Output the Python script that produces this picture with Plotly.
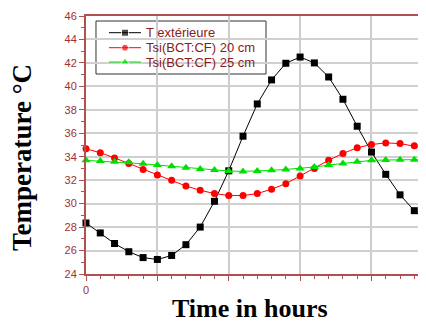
import plotly.graph_objects as go

hours = list(range(25))
t_ext = [28.35, 27.5, 26.6, 25.9, 25.4, 25.24, 25.58, 26.5, 28.0, 30.2, 32.8, 35.75,
         38.5, 40.55, 41.97, 42.5, 42.0, 40.8, 38.9, 36.6, 34.4, 32.5, 30.75, 29.4, 28.3]
tsi_20 = [34.68, 34.34, 33.9, 33.43, 32.92, 32.44, 31.99, 31.5, 31.14, 30.86, 30.69, 30.69,
          30.86, 31.23, 31.7, 32.36, 33.0, 33.7, 34.28, 34.76, 35.04, 35.18, 35.12, 34.93, 34.68]
tsi_25 = [33.69, 33.63, 33.57, 33.52, 33.4, 33.29, 33.18, 33.06, 32.95, 32.86, 32.78, 32.75,
          32.78, 32.84, 32.92, 33.0, 33.12, 33.29, 33.43, 33.57, 33.69, 33.72, 33.75, 33.75, 33.69]
series_names = ["T extérieure", "Tsi(BCT:CF) 20 cm", "Tsi(BCT:CF) 25 cm"]

x_tickvals = [0, 5, 10, 15, 20]
x_ticktext = ["0", "", "", "", ""]
y_tickvals = list(range(24, 47, 2))

axis_red = "#b05050"
label_red = "#a0302f"
legend_red = "#8b1a1a"
colors = ["black", "#ff0000", "#00e000"]
symbols = ["square", "circle", "triangle-up"]
msizes = [7, 7, 8]

fig = go.Figure()
for vals, name, c, s, ms in zip([t_ext, tsi_20, tsi_25], series_names, colors, symbols, msizes):
    fig.add_trace(go.Scatter(x=hours, y=vals, mode="lines+markers", name=name,
                             line=dict(color=c, width=1),
                             marker=dict(symbol=s, size=ms, color=c),
                             showlegend=False, cliponaxis=False))

# manual legend (overlay axes 0..1)
leg_x0, leg_x1 = 0.0294, 0.5294
leg_y0, leg_y1 = 0.7752, 0.9806
row_y = [0.9353, 0.8771, 0.8217]
samp_x = [0.0676, 0.1147, 0.1618]
text_x = 0.1706
for name, c, s, ms, ry in zip(series_names, colors, symbols, msizes, row_y):
    fig.add_trace(go.Scatter(x=samp_x, y=[ry, ry, ry], xaxis="x2", yaxis="y2",
                             mode="lines+markers", line=dict(color=c, width=1),
                             marker=dict(symbol=s, size=[0, ms, 0], color=c),
                             showlegend=False, hoverinfo="skip", cliponaxis=False))

annotations = [
    dict(text="<b>Temperature °C</b>", textangle=-90, xref="paper", yref="paper",
         x=-0.188, y=0.45, xanchor="center", yanchor="middle", showarrow=False,
         font=dict(family="Liberation Serif", size=27, color="black")),
    dict(text="<b>Time in hours</b>", xref="paper", yref="paper",
         x=0.482, y=-0.1977, xanchor="center", yanchor="bottom", showarrow=False,
         font=dict(family="Liberation Serif", size=26, color="black")),
]
for name, ry in zip(series_names, row_y):
    annotations.append(dict(text=name, xref="paper", yref="paper", x=text_x, y=ry,
                            xanchor="left", yanchor="middle", showarrow=False,
                            font=dict(family="Arial", size=13, color=legend_red)))

fig.update_layout(
    width=418, height=318,
    margin=dict(l=78, r=0, t=8, b=52),
    plot_bgcolor="white", paper_bgcolor="white",
    showlegend=False,
    xaxis=dict(range=[0, 23.82], tickvals=x_tickvals, ticktext=x_ticktext,
               showline=True, linecolor=axis_red, linewidth=2, mirror=True,
               ticks="outside", ticklen=5, tickcolor=axis_red, tickwidth=1,
               showgrid=True, gridcolor="#cccccc", gridwidth=1.5,
               minor=dict(dtick=1, ticks="outside", ticklen=3, tickcolor=axis_red, showgrid=False),
               tickfont=dict(family="Arial", size=11, color=label_red), zeroline=False),
    yaxis=dict(range=[24, 46], tickvals=y_tickvals,
               showline=True, linecolor=axis_red, linewidth=2, mirror=False,
               ticks="outside", ticklen=5, tickcolor=axis_red, tickwidth=1,
               showgrid=True, gridcolor="#d0d0d0", gridwidth=1.5,
               minor=dict(dtick=1, ticks="outside", ticklen=3, tickcolor=axis_red, showgrid=False),
               tickfont=dict(family="Arial", size=11, color=label_red), zeroline=False),
    xaxis2=dict(overlaying="x", range=[0, 1], visible=False, fixedrange=True),
    yaxis2=dict(overlaying="y", range=[0, 1], visible=False, fixedrange=True),
    shapes=[dict(type="rect", xref="paper", yref="paper", x0=leg_x0, x1=leg_x1,
                 y0=leg_y0, y1=leg_y1, fillcolor="white",
                 line=dict(color="#333333", width=1), layer="between")],
    annotations=annotations,
)

fig.write_html("out.html")
